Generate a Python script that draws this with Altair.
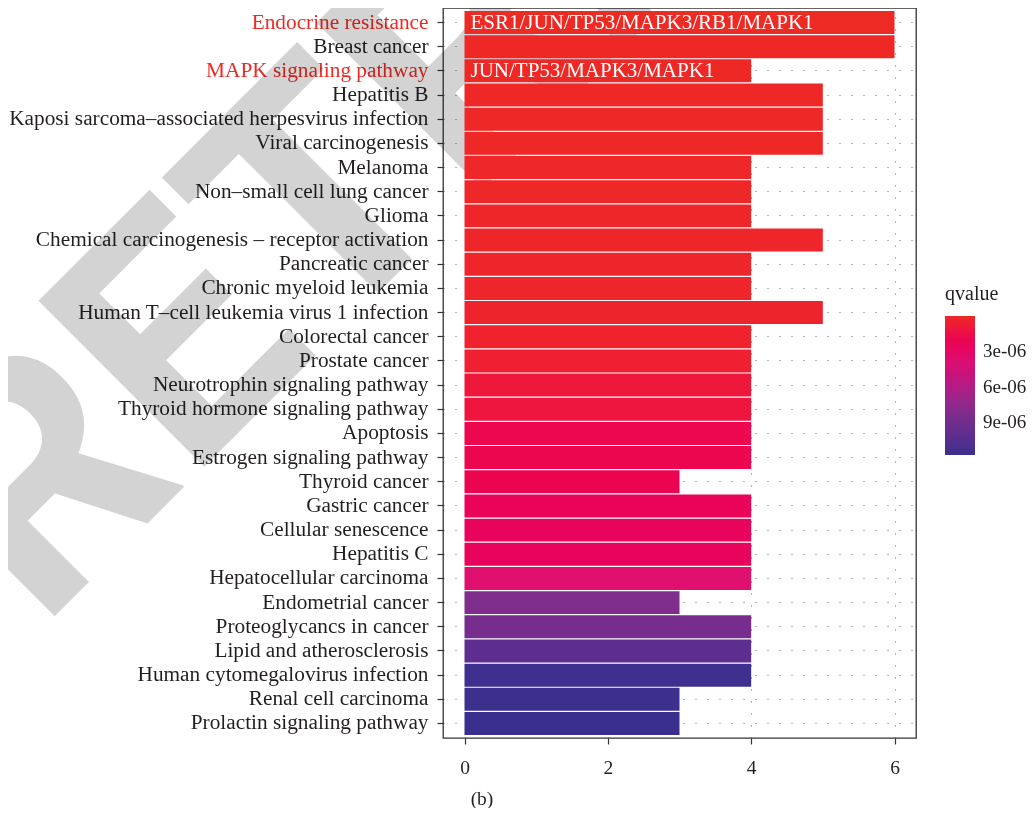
import altair as alt
import pandas as pd

terms = [
    "Endocrine resistance", "Breast cancer", "MAPK signaling pathway", "Hepatitis B",
    "Kaposi sarcoma\u2013associated herpesvirus infection", "Viral carcinogenesis", "Melanoma",
    "Non\u2013small cell lung cancer", "Glioma", "Chemical carcinogenesis \u2013 receptor activation",
    "Pancreatic cancer", "Chronic myeloid leukemia", "Human T\u2013cell leukemia virus 1 infection",
    "Colorectal cancer", "Prostate cancer", "Neurotrophin signaling pathway",
    "Thyroid hormone signaling pathway", "Apoptosis", "Estrogen signaling pathway",
    "Thyroid cancer", "Gastric cancer", "Cellular senescence", "Hepatitis C",
    "Hepatocellular carcinoma", "Endometrial cancer", "Proteoglycancs in cancer",
    "Lipid and atherosclerosis", "Human cytomegalovirus infection", "Renal cell carcinoma",
    "Prolactin signaling pathway",
]
counts = [6, 6, 4, 5, 5, 5, 4, 4, 4, 5, 4, 4, 5, 4, 4, 4, 4, 4, 4, 3, 4, 4, 4, 4, 3, 4, 4, 4, 3, 3]
qvalues = [1e-8, 3e-8, 5e-8, 8e-8, 1.0e-7, 1.2e-7, 1.5e-7, 1.8e-7, 2.0e-7, 2.2e-7,
           2.5e-7, 2.8e-7, 3.0e-7, 4.0e-7, 5.0e-7, 1.0e-6, 1.1e-6, 1.9e-6, 1.95e-6, 2.0e-6,
           2.5e-6, 2.6e-6, 2.65e-6, 3.6e-6, 8.3e-6, 8.8e-6, 1.02e-5, 1.16e-5, 1.17e-5, 1.18e-5]

gene_terms = ["Endocrine resistance", "MAPK signaling pathway"]
gene_labels = ["ESR1/JUN/TP53/MAPK3/RB1/MAPK1", "JUN/TP53/MAPK3/MAPK1"]
highlight = ["Endocrine resistance", "MAPK signaling pathway"]

x_ticks = [0, 2, 4, 6]
legend_ticks = [3e-6, 6e-6, 9e-6]

df = pd.DataFrame({"term": terms, "count": counts, "qvalue": qvalues})
genes_df = pd.DataFrame({"term": gene_terms, "genes": gene_labels})
one = pd.DataFrame({"k": [0]})

SERIF = "Liberation Serif"
TXT = "#231F20"
RED = "#EE2A24"

hl_test = " || ".join([f"datum.value == '{t}'" for t in highlight])

x_scale = alt.Scale(domain=[-0.3, 6.3], nice=False, zero=False)
y_scale = alt.Scale(paddingInner=0.05, paddingOuter=0.125)

x_enc = alt.X("count:Q", scale=x_scale, title=None,
              axis=alt.Axis(values=x_ticks, format="d", grid=True, domain=False,
                            tickSize=6, labelPadding=14, labelFontSize=19.5))
y_enc = alt.Y("term:N", sort=terms, scale=y_scale, title=None,
              axis=alt.Axis(grid=True, domain=False, tickSize=6, labelPadding=9,
                            bandPosition=0.5, labelLimit=600, labelFontSize=21.3,
                            labelColor=alt.condition(hl_test, alt.value(RED), alt.value(TXT))))

watermark = alt.Chart(one).mark_text(
    text="RETRACTED", font="Roboto", fontWeight="bold", fontSize=330,
    angle=315, align="left", baseline="alphabetic", color="#D3D3D3", blend="multiply"
).encode(x=alt.value(-403), y=alt.value(623))

# colour runs on the negated q-value so the gradient legend shows small q at the top
bars = alt.Chart(df).transform_calculate(
    negq="-datum.qvalue"
).mark_bar().encode(
    x=x_enc,
    x2=alt.datum(0),
    y=y_enc,
    color=alt.Color(
        "negq:Q",
        scale=alt.Scale(domain=[-1.18e-5, -8.3e-6, -3.6e-6, 0],
                        range=["#3A2F8E", "#7E2D8C", "#E0116E", "#EE2A24"]),
        legend=alt.Legend(title="qvalue", orient="none", legendX=502, legendY=276,
                          direction="vertical", gradientLength=139, gradientThickness=30,
                          values=[-v for v in legend_ticks],
                          labelExpr="replace(format(-datum.value, '.0e'), 'e-', 'e-0')",
                          titleFont=SERIF, titleFontSize=20, titleFontWeight="normal",
                          titleColor=TXT, titlePadding=12, labelFont=SERIF,
                          labelFontSize=19, labelColor=TXT, labelOffset=8,
                          gradientStrokeWidth=0),
    ),
)

gene_text = alt.Chart(genes_df).mark_text(
    align="left", baseline="middle", dx=6, font=SERIF, fontSize=21, color="white"
).encode(x=alt.datum(0), y=alt.Y("term:N", sort=terms), text="genes:N")

caption = alt.Chart(one).mark_text(
    text="(b)", font=SERIF, fontSize=19.5, color=TXT, align="center", baseline="alphabetic"
).encode(x=alt.value(39), y=alt.value(797))

chart = alt.layer(watermark, bars, gene_text, caption).properties(
    width=473, height=730,
    autosize=alt.AutoSizeParams(type="none"),
    padding={"left": 435, "top": 0, "right": 111, "bottom": 70},
).configure_view(
    stroke="#333333", strokeWidth=1.3
).configure_axis(
    labelFont=SERIF, labelColor=TXT, tickColor="#333333", tickWidth=1.2,
    gridColor="#555555", gridWidth=1, gridDash=[1, 11], gridOpacity=0.9,
)

chart.save("out.html", embed_options={"renderer": "svg", "actions": False})
